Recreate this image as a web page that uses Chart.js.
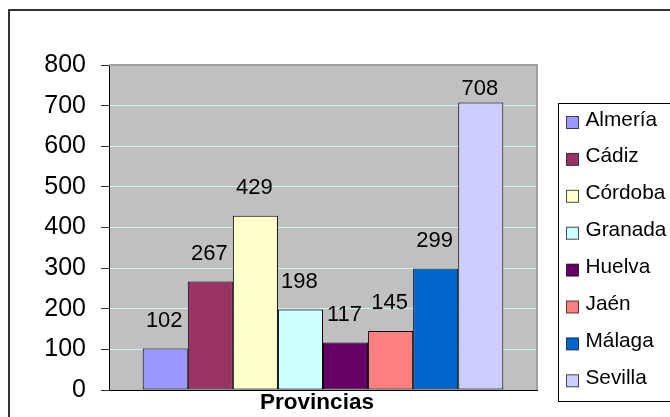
<!DOCTYPE html>
<html>
<head>
<meta charset="utf-8">
<script src="https://cdn.jsdelivr.net/npm/chart.js@4/dist/chart.umd.min.js"></script>
<style>
  body { margin: 0; background: #fff; }
  canvas { display: block; }
</style>
</head>
<body>
<canvas id="myChart" width="670" height="417"></canvas>
<script>
// data
const categories = ['Provincias'];
const provincias = ['Almería', 'Cádiz', 'Córdoba', 'Granada', 'Huelva', 'Jaén', 'Málaga', 'Sevilla'];
const valores = [102, 267, 429, 198, 117, 145, 299, 708];
const colores = ['#9999FF', '#993366', '#FFFFCC', '#CCFFFF', '#660066', '#FF8080', '#0066CC', '#CCCCFF'];
const yTicks = [0, 100, 200, 300, 400, 500, 600, 700, 800];

const FONT = "Arial, 'Liberation Sans', sans-serif";

// white page, grey plot area and the outer frame
const fondo = {
  id: 'fondo',
  beforeDraw(chart) {
    const {ctx, chartArea} = chart;
    ctx.save();
    ctx.fillStyle = '#fff';
    ctx.fillRect(0, 0, chart.width, chart.height);
    ctx.strokeStyle = '#333';
    ctx.lineWidth = 2;
    ctx.strokeRect(9, 10, chart.width + 20, chart.height + 20);
    ctx.fillStyle = '#C0C0C0';
    ctx.fillRect(chartArea.left, chartArea.top, chartArea.right - chartArea.left, chartArea.bottom - chartArea.top);
    ctx.restore();
  },
  beforeDatasetsDraw(chart) {
    const {ctx, chartArea} = chart;
    ctx.save();
    ctx.strokeStyle = '#A0A0A0';
    ctx.lineWidth = 2;
    ctx.beginPath();
    ctx.moveTo(chartArea.left, chartArea.top);
    ctx.lineTo(chartArea.right, chartArea.top);
    ctx.lineTo(chartArea.right, chartArea.bottom);
    ctx.stroke();
    ctx.restore();
  }
};

// value labels above each bar
const etiquetas = {
  id: 'etiquetas',
  afterDatasetsDraw(chart) {
    const {ctx, chartArea} = chart;
    ctx.save();
    ctx.font = '22px ' + FONT;
    ctx.fillStyle = '#000';
    ctx.textAlign = 'center';
    ctx.textBaseline = 'middle';
    chart.data.datasets.forEach((ds, i) => {
      const bar = chart.getDatasetMeta(i).data[0];
      let y = bar.y - 28;
      if (y < chartArea.top + 24) y = chartArea.top + 24;
      ctx.fillText(String(ds.data[0]), bar.x - 1, y);
    });
    ctx.restore();
  }
};

// boxed legend on the right, cut by the page edge like the original
const leyenda = {
  id: 'leyenda',
  afterDraw(chart) {
    const {ctx, chartArea} = chart;
    const left = chartArea.right + 21.5;
    const top = 103.5;
    ctx.save();
    ctx.strokeStyle = '#000';
    ctx.lineWidth = 1;
    ctx.strokeRect(left, top, 140, 298);
    ctx.font = '20.8px ' + FONT;
    ctx.textBaseline = 'alphabetic';
    ctx.textAlign = 'left';
    chart.data.datasets.forEach((ds, i) => {
      const base = top + 22 + i * 36.9;
      ctx.fillStyle = ds.backgroundColor;
      ctx.fillRect(left + 8, base - 9, 12, 12);
      ctx.strokeStyle = 'rgba(0,0,0,0.7)';
      ctx.strokeRect(left + 8, base - 9, 12, 12);
      ctx.fillStyle = '#000';
      ctx.fillText(ds.label, left + 27, base);
    });
    ctx.restore();
  }
};

const datasets = provincias.map((p, i) => ({
  label: p,
  data: [valores[i]],
  backgroundColor: colores[i],
  borderColor: '#000',
  borderWidth: 1,
  borderSkipped: false,
  categoryPercentage: 0.8425,
  barPercentage: 1
}));

const ctx = document.getElementById('myChart').getContext('2d');
const myChart = new Chart(ctx, {
  type: 'bar',
  data: { labels: categories, datasets: datasets },
  plugins: [fondo, etiquetas, leyenda],
  options: {
    responsive: false,
    animation: false,
    devicePixelRatio: 1,
    layout: { padding: { left: 0, right: 133, top: 65, bottom: 0 } },
    plugins: {
      legend: { display: false },
      tooltip: { enabled: false }
    },
    scales: {
      x: {
        grid: { display: false, drawTicks: false },
        border: { display: true, color: '#000', width: 1 },
        ticks: {
          color: '#000',
          padding: 2,
          labelOffset: -6,
          font: { family: FONT, size: 22.5, weight: 'bold', lineHeight: 1 }
        },
        afterFit(s) { s.height = 27; }
      },
      y: {
        min: 0,
        max: 800,
        afterBuildTicks(s) { s.ticks = yTicks.map(v => ({ value: v })); },
        grid: {
          color: c => c.tick.value === 800 ? '#A0A0A0' : (c.tick.value === 0 ? '#000' : '#CCF2F2'),
          tickColor: '#333',
          tickLength: 8,
          lineWidth: 1
        },
        border: { display: true, color: '#000', width: 1 },
        ticks: {
          color: '#000',
          padding: 15,
          font: { family: FONT, size: 25 }
        },
        afterFit(s) {
          s.width = 109;
          s.paddingTop = 0;
          s.paddingBottom = 0;
        }
      }
    }
  }
});
</script>
</body>
</html>
